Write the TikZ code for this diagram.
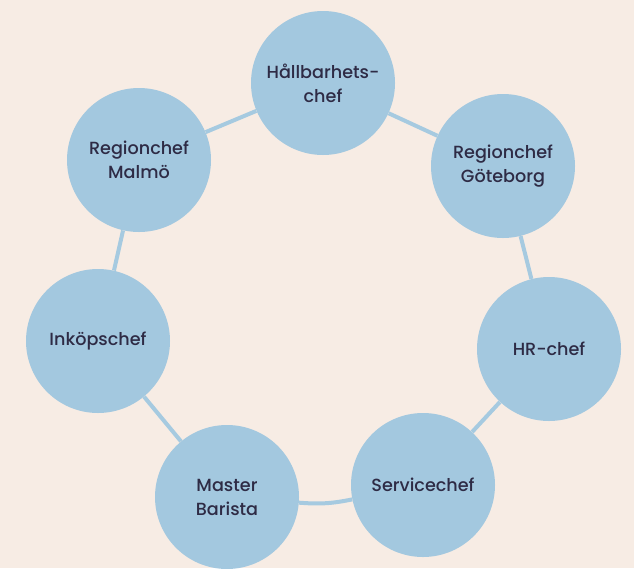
\documentclass[tikz,border=0pt]{standalone}
\usepackage{fontspec}
\setmainfont{Poppins}
\newfontfamily\rolefont{Poppins Medium}
\definecolor{bgbeige}{HTML}{F7ECE4}
\definecolor{rolefill}{HTML}{A3C8DF}
\definecolor{rolelink}{HTML}{A6CAE0}
\definecolor{roletext}{HTML}{2E2B45}
\pgfdeclarelayer{back}
\pgfdeclarelayer{links}
\pgfsetlayers{back,links,main}
\tikzset{
  role/.style={circle, fill=rolefill, minimum size=108pt, inner sep=0pt,
    align=center, text=roletext, font=\rolefont\fontsize{13.2}{18}\selectfont},
  link/.style={rolelink, line width=3pt}
}
\begin{document}
\begin{tikzpicture}[x=0.75pt, y=-0.75pt]

% Background
\begin{pgfonlayer}{back}
\fill[bgbeige] (0,0) rectangle (634,568);
\end{pgfonlayer}
\useasboundingbox (0,0) rectangle (634,568);

% Ring of roles
\node[role] (hall) at (323,83) {Hållbarhets-\\chef};
\node[role] (gbg) at (503,166) {Regionchef\\Göteborg};
\node[role] (hr) at (549,349) {HR-chef};
\node[role] (serv) at (423,485) {Servicechef};
\node[role] (mast) at (227,497) {Master\\Barista};
\node[role] (inkop) at (98,341) {Inköpschef};
\node[role] (malmo) at (139,160) {Regionchef\\Malmö};

% Connectors behind the circles
\begin{pgfonlayer}{links}
\draw[link] (hall) -- (gbg);
\draw[link] (gbg) -- (hr);
\draw[link] (hr) -- (serv);
\draw[link] (serv) to[bend left=8] (mast);
\draw[link] (mast) -- (inkop);
\draw[link] (inkop) -- (malmo);
\draw[link] (malmo) -- (hall);
\end{pgfonlayer}

\end{tikzpicture}
\end{document}
